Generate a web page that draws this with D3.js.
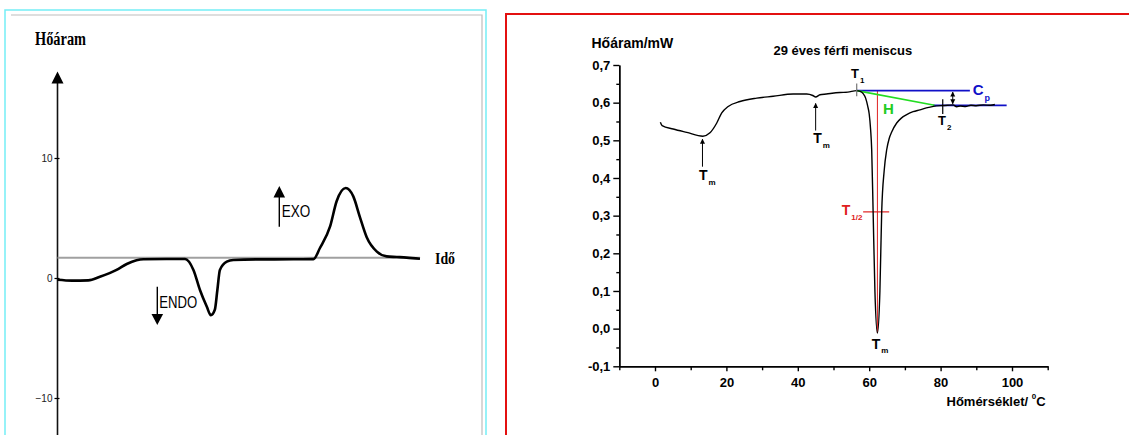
<!DOCTYPE html>
<html>
<head>
<meta charset="utf-8">
<script src="https://cdn.jsdelivr.net/npm/d3@7"></script>
<style>
  body { margin: 0; background: #fff; }
  svg { display: block; }
</style>
</head>
<body>
<script>
const W = 1129, H = 435;

// left panel: schematic DSC curve (arbitrary time units)
const schemTime = [0, 4, 8.5, 11.7, 16.3, 19.1, 21.8, 23.7, 30, 35.2, 37.5, 39.3, 41.2, 42.3, 43.4, 44.1, 44.8, 46.7, 48.5, 55, 65, 70.6, 72.4, 75.2, 77, 79.5, 81.6, 83.4, 85.3, 88.1, 90.8, 93.6, 96.3, 100];
const schemFlow = [-0.15, -0.22, -0.2, 0.1, 0.67, 1.17, 1.48, 1.56, 1.58, 1.58, 0.67, -1.0, -2.4, -3.1, -2.65, -1.0, 0.67, 1.36, 1.5, 1.55, 1.56, 1.57, 2.5, 4.3, 6.4, 7.5, 6.8, 5.1, 3.4, 2.2, 1.8, 1.75, 1.7, 1.6];
const schemBase = 1.69;
const schemTicks = [-10, 0, 10];

// right panel: measured DSC curve
const temp = [1.5, 2.0, 5.1, 8.9, 13.4, 15.4, 17.3, 18.7, 20.5, 23.8, 28.5, 33.1, 38.7, 42.5, 44.2, 45.0, 46.2, 48.0, 51.8, 54.0, 56.5, 57.5, 58.3, 59.0, 59.6, 60.0, 60.4, 60.7, 61.1, 61.6, 62.3, 63.0, 63.5, 64.2, 64.9, 65.6, 66.3, 67.7, 69.0, 70.5, 72.3, 74.2, 76.0, 78.0, 80.0, 82.0, 83.5, 84.5, 85.5, 87.0, 88.5, 90.0, 92.0, 94.0, 95.2];
const heatFlow = [0.548, 0.539, 0.530, 0.521, 0.511, 0.520, 0.546, 0.573, 0.590, 0.603, 0.612, 0.617, 0.623, 0.623, 0.619, 0.615, 0.621, 0.623, 0.627, 0.628, 0.632, 0.630, 0.624, 0.612, 0.590, 0.570, 0.528, 0.475, 0.310, 0.100, -0.012, 0.100, 0.310, 0.420, 0.475, 0.505, 0.522, 0.546, 0.559, 0.568, 0.576, 0.581, 0.586, 0.590, 0.592, 0.593, 0.594, 0.589, 0.591, 0.590, 0.593, 0.592, 0.594, 0.593, 0.595];
const yTicks = [-0.1, 0, 0.1, 0.2, 0.3, 0.4, 0.5, 0.6, 0.7];
const yMinor = [-0.05, 0.05, 0.15, 0.25, 0.35, 0.45, 0.55, 0.65];
const xTicks = [0, 20, 40, 60, 80, 100];
const xMinor = [-10, 10, 30, 50, 70, 90, 110];

// characteristic points
const t1 = 56.5, t2 = 80.6, tPeak = 62.3;
const cpTop = 0.632, cpBottom = 0.593;
const halfLevel = 0.31;

const svg = d3.select("body").append("svg")
  .attr("width", W).attr("height", H);
svg.append("rect").attr("width", W).attr("height", H).attr("fill", "#fff");

const defs = svg.append("defs");
defs.append("marker").attr("id", "ah").attr("viewBox", "0 0 10 10")
  .attr("refX", 9).attr("refY", 5).attr("markerWidth", 5).attr("markerHeight", 6)
  .attr("orient", "auto-start-reverse")
  .append("path").attr("d", "M0,0 L10,5 L0,10 z").attr("fill", "#000");

// ---------- left panel ----------
svg.append("path").attr("d", "M5,436 V10 H486 V436")
  .attr("fill", "none").attr("stroke", "#74eef6").attr("stroke-width", 1.5);
svg.append("path").attr("d", "M11,15 H482 V436")
  .attr("fill", "none").attr("stroke", "#bdbdbd").attr("stroke-width", 1.2);

const lx = d3.scaleLinear().domain([0, 100]).range([57.5, 420]);
const ly = d3.scaleLinear().domain([0, 10]).range([278, 158]);

const left = svg.append("g");
left.append("line")
  .attr("x1", lx(0)).attr("x2", lx(0)).attr("y1", ly(16.3)).attr("y2", 436)
  .attr("stroke", "#111").attr("stroke-width", 1.6);
left.append("path")
  .attr("d", `M${lx(0)},${ly(17.2)} L${lx(0) - 6},${ly(16.2)} L${lx(0) + 6},${ly(16.2)} z`)
  .attr("fill", "#000");

const lAxis = left.append("g").attr("transform", `translate(${lx(0)},0)`)
  .call(d3.axisLeft(ly).tickValues(schemTicks).tickSize(3).tickPadding(2).tickFormat(d3.format("d")));
lAxis.select(".domain").remove();
lAxis.selectAll("line").attr("x2", -3).attr("x1", 2).attr("stroke-width", 1.2);
lAxis.selectAll("text").attr("font-family", "Liberation Sans, Arial, sans-serif")
  .attr("font-size", 10).attr("fill", "#222");

left.append("line")
  .attr("x1", lx(0)).attr("x2", lx(100)).attr("y1", ly(schemBase)).attr("y2", ly(schemBase))
  .attr("stroke", "#a0a0a0").attr("stroke-width", 2);

left.append("path")
  .datum(schemTime.map((t, i) => [t, schemFlow[i]]))
  .attr("d", d3.line().x(d => lx(d[0])).y(d => ly(d[1])).curve(d3.curveMonotoneX))
  .attr("fill", "none").attr("stroke", "#000").attr("stroke-width", 2.6);

const serif = "Liberation Serif, Times New Roman, serif";
const sans = "Liberation Sans, Arial, sans-serif";
left.append("text").attr("x", 35).attr("y", 45).text("Hőáram")
  .attr("font-family", serif).attr("font-weight", "bold").attr("font-size", 18)
  .attr("textLength", 51).attr("lengthAdjust", "spacingAndGlyphs");
left.append("text").attr("x", 435).attr("y", 263.5).text("Idő")
  .attr("font-family", serif).attr("font-weight", "bold").attr("font-size", 17)
  .attr("textLength", 20).attr("lengthAdjust", "spacingAndGlyphs");

// EXO / ENDO arrows
left.append("line").attr("x1", 279.3).attr("x2", 279.3).attr("y1", 226.7).attr("y2", 196)
  .attr("stroke", "#000").attr("stroke-width", 1.4);
left.append("path").attr("d", "M279.3,186 L273.5,197.5 L285.1,197.5 z").attr("fill", "#000");
left.append("text").attr("x", 281.7).attr("y", 216.7).text("EXO")
  .attr("font-family", sans).attr("font-size", 16)
  .attr("textLength", 28.5).attr("lengthAdjust", "spacingAndGlyphs");
left.append("line").attr("x1", 157.3).attr("x2", 157.3).attr("y1", 286.7).attr("y2", 315)
  .attr("stroke", "#000").attr("stroke-width", 1.4);
left.append("path").attr("d", "M157.3,325 L151.5,314 L163.1,314 z").attr("fill", "#000");
left.append("text").attr("x", 159.3).attr("y", 308.3).text("ENDO")
  .attr("font-family", sans).attr("font-size", 16)
  .attr("textLength", 38).attr("lengthAdjust", "spacingAndGlyphs");

// ---------- right panel ----------
svg.append("path").attr("d", "M506,436 V14 H1130")
  .attr("fill", "none").attr("stroke", "#e31010").attr("stroke-width", 2);

const rx = d3.scaleLinear().domain([-10, 110]).range([619.3, 1047.7]);
const ry = d3.scaleLinear().domain([-0.1, 0.7]).range([366.3, 65]);
const comma = d => d3.format(".1f")(d).replace(".", ",").replace("−", "-");

const right = svg.append("g");
function styleAxis(g) {
  g.selectAll("path, line").attr("stroke", "#000").attr("stroke-width", 1.4);
  g.selectAll("text").attr("font-family", sans).attr("font-weight", "bold")
    .attr("font-size", 13).attr("fill", "#000");
}
right.append("g").attr("transform", `translate(${rx(-10)},0)`)
  .call(d3.axisLeft(ry).tickValues(yMinor).tickSize(3).tickSizeOuter(0).tickFormat(""))
  .call(styleAxis);
right.append("g").attr("transform", `translate(${rx(-10)},0)`)
  .call(d3.axisLeft(ry).tickValues(yTicks).tickSize(6).tickSizeOuter(0).tickPadding(3).tickFormat(comma))
  .call(styleAxis);
right.append("g").attr("transform", `translate(0,${ry(-0.1)})`)
  .call(d3.axisBottom(rx).tickValues(xMinor).tickSize(4).tickSizeOuter(0).tickFormat(""))
  .call(styleAxis);
right.append("g").attr("transform", `translate(0,${ry(-0.1)})`)
  .call(d3.axisBottom(rx).tickValues(xTicks).tickSize(5).tickSizeOuter(0).tickPadding(6).tickFormat(d3.format("d")))
  .call(styleAxis);

right.append("text").attr("x", 591.5).attr("y", 47.5).text("Hőáram/mW")
  .attr("font-family", sans).attr("font-weight", "bold").attr("font-size", 14);
right.append("text").attr("x", 773.5).attr("y", 55).text("29 éves férfi meniscus")
  .attr("font-family", sans).attr("font-weight", "bold").attr("font-size", 13);
const xt = right.append("text").attr("x", 946.5).attr("y", 406)
  .attr("font-family", sans).attr("font-weight", "bold").attr("font-size", 13);
xt.append("tspan").text("Hőmérséklet/ ");
xt.append("tspan").attr("font-size", 8).attr("dy", -7).text("0");
xt.append("tspan").attr("dy", 7).text("C");

// reference lines
right.append("line").attr("x1", rx(tPeak)).attr("x2", rx(tPeak))
  .attr("y1", ry(cpTop)).attr("y2", ry(-0.012))
  .attr("stroke", "#e02020").attr("stroke-width", 1);
right.append("line").attr("x1", rx(58.3)).attr("x2", rx(65.6))
  .attr("y1", ry(halfLevel)).attr("y2", ry(halfLevel))
  .attr("stroke", "#e02020").attr("stroke-width", 1.2);
right.append("line").attr("x1", rx(t1)).attr("x2", rx(88.2))
  .attr("y1", ry(cpTop)).attr("y2", ry(cpTop))
  .attr("stroke", "#1010c8").attr("stroke-width", 1.8);
right.append("line").attr("x1", rx(77.9)).attr("x2", rx(98.5))
  .attr("y1", ry(cpBottom)).attr("y2", ry(cpBottom))
  .attr("stroke", "#1010c8").attr("stroke-width", 1.8);
right.append("line").attr("x1", rx(t1)).attr("x2", rx(78.3))
  .attr("y1", ry(cpTop)).attr("y2", ry(cpBottom))
  .attr("stroke", "#22dd22").attr("stroke-width", 1.6);

// the curve
right.append("path")
  .datum(temp.map((t, i) => [t, heatFlow[i]]))
  .attr("d", d3.line().x(d => rx(d[0])).y(d => ry(d[1])).curve(d3.curveMonotoneX))
  .attr("fill", "none").attr("stroke", "#000").attr("stroke-width", 1.4);

// T1 / T2 markers and Cp arrow
right.append("line").attr("x1", rx(t1)).attr("x2", rx(t1))
  .attr("y1", ry(0.651)).attr("y2", ry(0.617)).attr("stroke", "#777").attr("stroke-width", 1.2);
right.append("line").attr("x1", rx(t2)).attr("x2", rx(t2))
  .attr("y1", ry(0.609)).attr("y2", ry(0.570)).attr("stroke", "#000").attr("stroke-width", 1.2);
right.append("line").attr("x1", rx(83.4)).attr("x2", rx(83.4))
  .attr("y1", ry(cpTop - 0.004)).attr("y2", ry(cpBottom + 0.004))
  .attr("stroke", "#000").attr("stroke-width", 1)
  .attr("marker-start", "url(#ah)").attr("marker-end", "url(#ah)");

// Tm arrows
[[13.3, 0.430, 0.503], [45.0, 0.526, 0.598]].forEach(a => {
  right.append("line").attr("x1", rx(a[0])).attr("x2", rx(a[0]))
    .attr("y1", ry(a[1])).attr("y2", ry(a[2]))
    .attr("stroke", "#000").attr("stroke-width", 1).attr("marker-end", "url(#ah)");
});

function subLabel(x, y, main, sub, color, size, subSize, dy) {
  const t = right.append("text").attr("x", rx(x)).attr("y", ry(y))
    .attr("font-family", sans).attr("font-weight", "bold").attr("fill", color)
    .attr("font-size", size);
  t.append("tspan").text(main);
  if (sub) t.append("tspan").attr("font-size", subSize).attr("dy", dy).attr("dx", 1).text(sub);
}
subLabel(54.9, 0.665, "T", "1", "#000", 13, 8, 4.5);
subLabel(79.3, 0.541, "T", "2", "#000", 13, 8, 5.5);
subLabel(89.0, 0.621, "C", "p", "#1010c8", 15, 9, 6.5);
subLabel(63.9, 0.570, "H", null, "#22cc22", 15);
subLabel(52.3, 0.302, "T", "1/2", "#e02020", 14, 8, 5);
subLabel(12.3, 0.395, "T", "m", "#000", 14, 8, 5);
subLabel(44.3, 0.492, "T", "m", "#000", 14, 8, 5);
subLabel(60.7, -0.055, "T", "m", "#000", 14, 8, 4);
</script>
</body>
</html>
